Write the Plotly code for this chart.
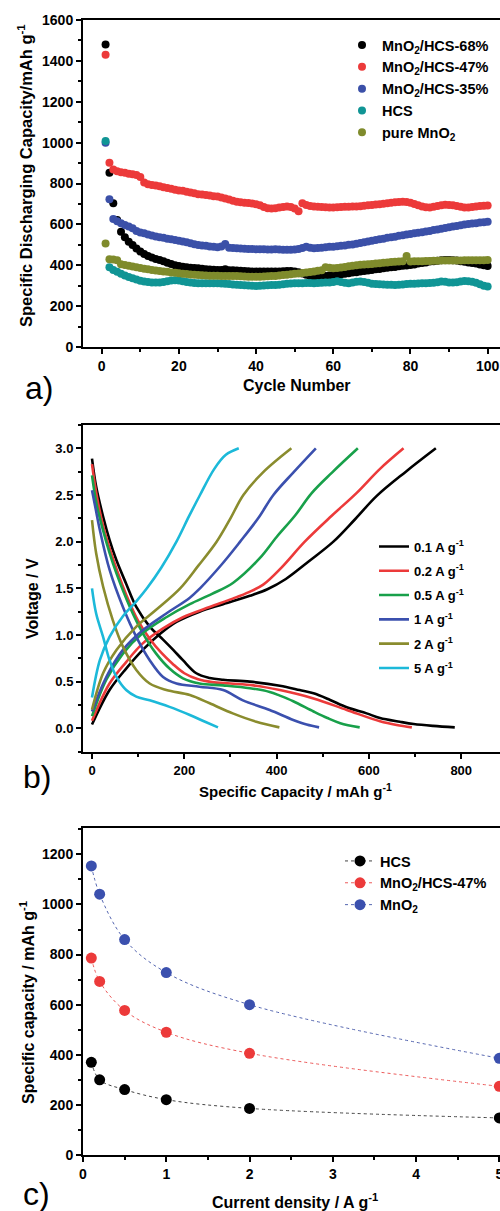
import plotly.graph_objects as go

W, H = 500, 1211
FONT = "Liberation Sans"

# ---------------- Panel a data ----------------
cycles = list(range(1, 101))
cap_68 = [1480, 853, 703, 621, 564, 537, 515, 499, 482, 467,
          455, 445, 438, 431, 426, 419, 412, 406, 400, 396,
          393, 390, 388, 386, 385, 383, 381, 379, 378, 377,
          377, 380, 376, 375, 374, 373, 372, 371, 370, 369,
          369, 369, 369, 370, 369, 370, 371, 372, 372, 370,
          366, 360, 354, 348, 344, 344, 346, 348, 350, 352,
          354, 356, 359, 361, 364, 366, 369, 372, 374, 377,
          380, 382, 385, 388, 390, 392, 395, 397, 399, 401,
          404, 408, 411, 414, 418, 420, 422, 424, 426, 426,
          425, 423, 420, 417, 414, 411, 408, 404, 400, 396]
cap_47 = [1430, 902, 868, 860, 855, 852, 848, 845, 842, 832,
          805, 796, 793, 790, 786, 782, 778, 774, 770, 766,
          764, 760, 756, 752, 748, 746, 744, 741, 738, 736,
          731, 727, 722, 716, 711, 708, 706, 704, 702, 699,
          693, 685, 679, 678, 679, 682, 685, 687, 685, 678,
          664, 703, 695, 690, 688, 686, 685, 684, 683, 683,
          684, 685, 686, 686, 687, 688, 689, 691, 693, 695,
          697, 699, 701, 703, 706, 708, 710, 711, 710, 706,
          700, 694, 688, 684, 683, 686, 690, 694, 696, 695,
          693, 690, 686, 683, 683, 685, 688, 690, 691, 692]
cap_35 = [1000, 723, 626, 615, 605, 597, 590, 581, 567, 560,
          556, 551, 546, 541, 537, 534, 530, 527, 523, 520,
          516, 512, 508, 503, 499, 497, 495, 492, 490, 488,
          492, 504, 486, 484, 483, 482, 481, 480, 479, 478,
          478, 478, 477, 477, 478, 477, 476, 476, 476, 477,
          480, 484, 491, 486, 483, 484, 486, 488, 490, 491,
          493, 495, 497, 500, 502, 505, 509, 512, 516, 520,
          524, 527, 530, 534, 537, 540, 544, 547, 550, 553,
          556, 559, 562, 565, 568, 572, 575, 579, 582, 586,
          589, 592, 596, 599, 602, 604, 606, 609, 611, 613]
cap_hcs = [1008, 390, 377, 368, 358, 350, 343, 336, 330, 324,
           320, 318, 316, 315, 315, 318, 322, 325, 326, 325,
           322, 318, 315, 313, 312, 312, 312, 312, 312, 312,
           311, 310, 308, 306, 304, 303, 302, 301, 300, 299,
           300, 301, 302, 303, 303, 305, 307, 309, 311, 312,
           312, 312, 313, 313, 312, 313, 314, 315, 316, 318,
           322, 318, 314, 312, 315, 319, 320, 318, 314, 310,
           308, 307, 306, 305, 304, 303, 304, 306, 308, 309,
           310, 311, 312, 312, 313, 314, 317, 320, 319, 316,
           315, 317, 321, 323, 322, 319, 314, 307, 300, 296]
cap_mno2 = [507, 429, 428, 425, 405, 401, 398, 394, 390, 386,
            383, 380, 377, 374, 372, 370, 368, 365, 363, 361,
            359, 357, 355, 353, 352, 351, 350, 349, 349, 349,
            348, 348, 347, 347, 347, 346, 345, 344, 344, 344,
            344, 345, 346, 347, 348, 350, 352, 354, 356, 358,
            360, 362, 364, 367, 370, 373, 376, 390, 388, 385,
            387, 389, 392, 395, 398, 400, 402, 404, 405, 406,
            408, 410, 412, 414, 416, 417, 418, 420, 445, 418,
            419, 420, 420, 421, 421, 422, 422, 423, 423, 423,
            423, 423, 423, 424, 424, 424, 425, 425, 425, 426]
a_names = ["MnO<sub>2</sub>/HCS-68%", "MnO<sub>2</sub>/HCS-47%",
           "MnO<sub>2</sub>/HCS-35%", "HCS", "pure MnO<sub>2</sub>"]
a_series = [cap_68, cap_47, cap_35, cap_hcs, cap_mno2]
a_colors = ["#000000", "#ec3a3a", "#3b50a8", "#109595", "#7f8b2c"]

# ---------------- Panel b data ----------------
b_names = ["0.1 A g<sup>-1</sup>", "0.2 A g<sup>-1</sup>", "0.5 A g<sup>-1</sup>",
           "1 A g<sup>-1</sup>", "2 A g<sup>-1</sup>", "5 A g<sup>-1</sup>"]
b_colors = ["#000000", "#ec3a3a", "#18a04a", "#3b50ae", "#8a8c2e", "#1cb9d9"]
dis_cap = [
    [0, 9, 24, 38, 53, 74, 96, 125, 154, 176, 197, 226, 255, 284, 342, 407, 450, 480, 516, 552, 595, 624, 667, 697, 739, 786],
    [0, 10, 25, 40, 55, 75, 100, 125, 150, 175, 200, 230, 260, 300, 350, 407, 480, 552, 624, 660, 693],
    [0, 10, 24, 38, 53, 82, 110, 139, 168, 197, 233, 284, 342, 385, 407, 436, 480, 510, 538, 580],
    [0, 8, 17, 38, 67, 96, 125, 154, 183, 233, 284, 327, 385, 436, 465, 492],
    [0, 9, 24, 45, 67, 96, 125, 161, 212, 255, 305, 356, 406],
    [0, 9, 24, 38, 53, 74, 96, 125, 168, 212, 245, 273],
]
dis_v = [
    [2.89, 2.59, 2.27, 2.02, 1.80, 1.55, 1.30, 1.09, 0.95, 0.84, 0.73, 0.59, 0.54, 0.52, 0.50, 0.457, 0.41, 0.375, 0.304, 0.225, 0.16, 0.11, 0.07, 0.046, 0.026, 0.01],
    [2.83, 2.50, 2.15, 1.90, 1.68, 1.42, 1.15, 0.96, 0.81, 0.69, 0.59, 0.525, 0.495, 0.48, 0.46, 0.41, 0.32, 0.197, 0.075, 0.035, 0.01],
    [2.71, 2.40, 2.12, 1.88, 1.66, 1.30, 1.02, 0.80, 0.64, 0.536, 0.48, 0.46, 0.43, 0.39, 0.35, 0.29, 0.18, 0.11, 0.055, 0.01],
    [2.55, 2.35, 2.125, 1.70, 1.30, 0.98, 0.73, 0.55, 0.48, 0.446, 0.41, 0.30, 0.196, 0.09, 0.04, 0.01],
    [2.23, 1.875, 1.52, 1.16, 0.875, 0.625, 0.48, 0.41, 0.357, 0.268, 0.16, 0.07, 0.01],
    [1.50, 1.23, 0.98, 0.73, 0.55, 0.41, 0.34, 0.30, 0.23, 0.143, 0.07, 0.01],
]
chg_cap = [
    [0, 38, 74, 110, 147, 183, 233, 284, 342, 380, 420, 470, 523, 570, 617, 680, 745],
    [0, 38, 74, 110, 154, 197, 255, 305, 340, 371, 410, 461, 520, 573, 624, 675],
    [0, 31, 67, 110, 161, 212, 260, 306, 363, 400, 440, 476, 520, 576],
    [0, 31, 67, 110, 161, 212, 234, 280, 321, 360, 393, 436, 485],
    [0, 24, 53, 96, 139, 191, 230, 270, 300, 328, 370, 432],
    [0, 17, 38, 67, 96, 119, 150, 183, 210, 234, 265, 290, 318],
]
chg_v = [
    [0.04, 0.41, 0.64, 0.84, 1.01, 1.14, 1.25, 1.33, 1.42, 1.49, 1.60, 1.79, 2.0, 2.24, 2.49, 2.75, 3.0],
    [0.08, 0.48, 0.71, 0.91, 1.07, 1.19, 1.30, 1.39, 1.46, 1.54, 1.72, 2.0, 2.28, 2.52, 2.78, 3.0],
    [0.13, 0.52, 0.80, 1.02, 1.19, 1.33, 1.44, 1.56, 1.82, 2.05, 2.28, 2.52, 2.74, 3.0],
    [0.18, 0.55, 0.84, 1.05, 1.23, 1.40, 1.50, 1.75, 2.0, 2.25, 2.50, 2.74, 3.0],
    [0.20, 0.59, 0.84, 1.09, 1.27, 1.50, 1.74, 2.0, 2.25, 2.50, 2.74, 3.0],
    [0.33, 0.73, 0.98, 1.20, 1.36, 1.50, 1.72, 2.0, 2.27, 2.50, 2.78, 2.93, 3.0],
]

# ---------------- Panel c data ----------------
current = [0.1, 0.2, 0.5, 1, 2, 5]
c_hcs = [370, 300, 261, 221, 186, 148]
c_47 = [786, 693, 577, 490, 406, 274]
c_mno2 = [1154, 1041, 860, 728, 600, 386]
c_names = ["HCS", "MnO<sub>2</sub>/HCS-47%", "MnO<sub>2</sub>"]
c_series = [c_hcs, c_47, c_mno2]
c_colors = ["#000000", "#ec3a3a", "#3b50ae"]
c_line_colors = ["#444444", "#ec5a5a", "#5566b0"]

fig = go.Figure()

for name, ys, col in zip(a_names, a_series, a_colors):
    fig.add_trace(go.Scatter(x=cycles, y=ys, mode="markers", name=name,
                             marker=dict(size=8, color=col),
                             xaxis="x", yaxis="y", legend="legend"))

for i, (name, col) in enumerate(zip(b_names, b_colors)):
    fig.add_trace(go.Scatter(x=dis_cap[i], y=dis_v[i], mode="lines", name=name,
                             line=dict(color=col, width=2.6, shape="spline", smoothing=1.0),
                             legendgroup=f"b{i}", xaxis="x2", yaxis="y2", legend="legend2"))
    fig.add_trace(go.Scatter(x=chg_cap[i], y=chg_v[i], mode="lines", name=name,
                             line=dict(color=col, width=2.6, shape="spline", smoothing=1.0),
                             legendgroup=f"b{i}", showlegend=False,
                             xaxis="x2", yaxis="y2", legend="legend2"))

for name, ys, col, lcol in zip(c_names, c_series, c_colors, c_line_colors):
    fig.add_trace(go.Scatter(x=current, y=ys, mode="lines+markers", name=name,
                             marker=dict(size=11, color=col),
                             line=dict(color=lcol, width=1, dash="dot", shape="spline"),
                             xaxis="x3", yaxis="y3", legend="legend3"))

def py(p):
    return 1 - p / H

def px(p):
    return p / W

tickfont = dict(family=FONT, size=14, color="black", weight="bold")
common = dict(showline=True, linewidth=2, linecolor="black", ticks="outside",
              ticklen=5, tickwidth=1.5, tickcolor="black", showgrid=False,
              zeroline=False, automargin=False, ticklabeloverflow="allow")

xdom = [83 / W, 1.0]
fig.update_layout(
    width=W, height=H, template="none",
    paper_bgcolor="white", plot_bgcolor="white",
    margin=dict(l=0, r=0, t=0, b=0),
    font=dict(family=FONT, color="black"),
    xaxis=dict(domain=xdom, range=[-4.85, 103.2], anchor="y", dtick=20, tick0=0,
               mirror=True, tickfont=tickfont,
               minor=dict(dtick=10, tick0=0, ticks="outside", ticklen=3, tickcolor="black"),
               **common),
    yaxis=dict(domain=[py(347), py(20)], range=[0, 1600], anchor="x", dtick=200,
               tickfont=tickfont,
               minor=dict(dtick=100, ticks="outside", ticklen=3, tickcolor="black"),
               **common),
    xaxis2=dict(domain=xdom, range=[-19.5, 884], anchor="y2", dtick=200, tick0=0,
                mirror=True, tickfont=dict(tickfont, size=13),
                minor=dict(dtick=100, tick0=0, ticks="outside", ticklen=3, tickcolor="black"),
                **common),
    yaxis2=dict(domain=[py(752.3), py(425)], range=[-0.257, 3.25], anchor="x2",
                dtick=0.5, tick0=0, tickformat=".1f", tickfont=dict(tickfont, size=13),
                minor=dict(dtick=0.25, tick0=0, ticks="outside", ticklen=3, tickcolor="black"),
                **common),
    xaxis3=dict(domain=xdom, range=[0, 5.008], anchor="y3", dtick=1, tick0=0,
                mirror=True, tickfont=tickfont,
                minor=dict(dtick=0.5, tick0=0, ticks="outside", ticklen=3, tickcolor="black"),
                **common),
    yaxis3=dict(domain=[py(1155), py(828.3)], range=[0, 1304], anchor="x3", dtick=200,
                tickfont=tickfont,
                minor=dict(dtick=100, ticks="outside", ticklen=3, tickcolor="black"),
                **common),
    legend=dict(x=px(342), y=py(29), xanchor="left", yanchor="top",
                bgcolor="rgba(0,0,0,0)", font=dict(family=FONT, size=14.5, weight="bold"),
                itemwidth=30, tracegroupgap=0),
    legend2=dict(x=px(374), y=py(531.5), xanchor="left", yanchor="top",
                 bgcolor="rgba(0,0,0,0)", font=dict(family=FONT, size=13, weight="bold"),
                 itemwidth=30, tracegroupgap=4.4),
    legend3=dict(x=px(340), y=py(845), xanchor="left", yanchor="top",
                 bgcolor="rgba(0,0,0,0)", font=dict(family=FONT, size=14.5, weight="bold"),
                 itemwidth=30, tracegroupgap=0),
)

def ann(text, x, y, size, bold=True, angle=0):
    fig.add_annotation(text=text, x=px(x), y=py(y), xref="paper", yref="paper",
                       xanchor="center", yanchor="middle", showarrow=False,
                       textangle=angle,
                       font=dict(family=FONT, size=size, color="black",
                                 weight="bold" if bold else "normal"))

ann("Specific Discharging Capacity/mAh g<sup>-1</sup>", 25, 176, 16.5, angle=-90)
ann("Cycle Number", 297, 386, 16)
ann("a)", 39, 388, 32, bold=False)
ann("Voltage / V", 32, 599, 16, angle=-90)
ann("Specific Capacity / mAh g<sup>-1</sup>", 295, 791, 15)
ann("b)", 37, 777, 32, bold=False)
ann("Specific capacity / mAh g<sup>-1</sup>", 27, 1003, 16, angle=-90)
ann("Current density / A g<sup>-1</sup>", 295, 1201, 16)
ann("c)", 36, 1194, 32, bold=False)

fig.write_html("out.html",
               config={"displayModeBar": False},
               post_script="document.body.style.margin='0';"
                           "document.body.style.padding='0';"
                           "document.body.style.overflow='hidden';"
                           "document.documentElement.style.overflow='hidden';")
